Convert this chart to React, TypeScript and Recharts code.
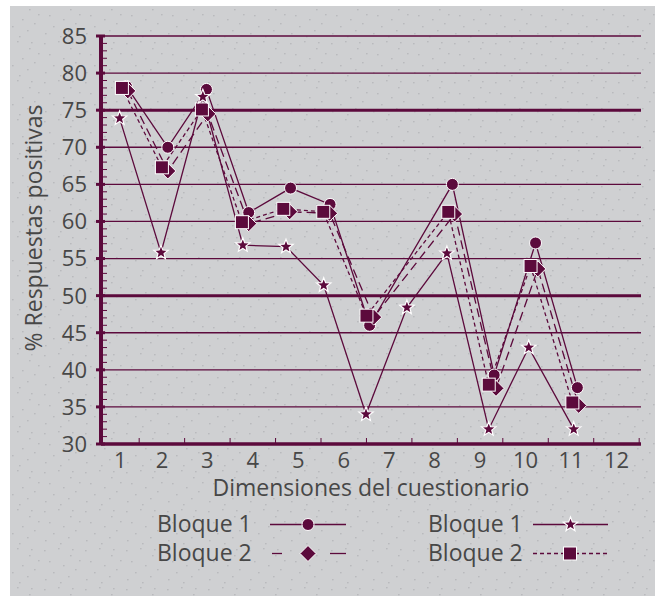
import React from 'react';
import { LineChart, Line, XAxis, YAxis, ReferenceLine } from 'recharts';

const MAROON = '#5c0a3c';
const TEXT = '#474747';
const FONT = '"Open Sans", "Noto Sans", sans-serif';

// x positions are read in axis units (category boundaries fall on 1..12)
const xTickLabels = ['1', '2', '3', '4', '5', '6', '7', '8', '9', '10', '11', '12'];
const xBoundaries = [1, 2, 3, 4, 5, 6, 7, 8, 9, 10, 11, 12];
const gridValues = [35, 40, 45, 55, 60, 65, 70, 80, 85];
const thickValues = [50, 75];

// Bloque 1 (circulo)
const circleX = [0.72, 1.63, 2.48, 3.41, 4.33, 5.2, 6.07, 7.89, 8.81, 9.72, 10.64];
const circleY = [78.2, 70.0, 77.8, 61.2, 64.5, 62.3, 46.0, 65.0, 39.3, 57.1, 37.6];
// Bloque 2 (rombo)
const diamondX = [0.75, 1.63, 2.51, 3.41, 4.31, 5.19, 6.16, 7.94, 8.85, 9.77, 10.67];
const diamondY = [77.6, 66.8, 74.5, 59.7, 61.3, 61.1, 47.1, 61.0, 37.5, 53.6, 35.2];
// Bloque 2 (cuadrado)
const squareX = [0.62, 1.5, 2.38, 3.26, 4.17, 5.05, 6.0, 7.8, 8.69, 9.61, 10.53];
const squareY = [78.0, 67.3, 75.1, 59.9, 61.7, 61.3, 47.3, 61.3, 38.0, 54.0, 35.6];
// Bloque 1 (estrella)
const starX = [0.57, 1.48, 2.4, 3.28, 4.23, 5.06, 5.99, 6.89, 7.77, 8.69, 9.57, 10.56];
const starY = [73.9, 55.8, 76.8, 56.8, 56.6, 51.4, 34.0, 48.4, 55.7, 32.0, 43.0, 32.0];

const zip = (xs: number[], ys: number[]) => xs.map((x, i) => ({ x, y: ys[i] }));
const circleData = zip(circleX, circleY);
const diamondData = zip(diamondX, diamondY);
const squareData = zip(squareX, squareY);
const starData = zip(starX, starY);

const minorTicks = Array.from({ length: 56 }, (_, i) => 30 + i);

// speckle texture of the paper background
const speckles = [
  [3, 4], [17, 2], [29, 9], [8, 15], [22, 19], [34, 23], [12, 26], [27, 30], [4, 33], [19, 36], [31, 3], [38, 14],
];

const starPath = (cx: number, cy: number, R: number, r: number) => {
  let d = '';
  for (let i = 0; i < 10; i++) {
    const rad = i % 2 === 0 ? R : r;
    const a = -Math.PI / 2 + (i * Math.PI) / 5;
    d += `${i === 0 ? 'M' : 'L'}${cx + rad * Math.cos(a)},${cy + rad * Math.sin(a)}`;
  }
  return d + 'Z';
};

const CircleMark = ({ cx, cy }: any) =>
  cx == null || cy == null ? <g /> : <circle cx={cx} cy={cy} r={6} fill={MAROON} stroke="#fff" strokeWidth={1} />;
const SquareMark = ({ cx, cy }: any) =>
  cx == null || cy == null ? <g /> : <rect x={cx - 6.5} y={cy - 6.5} width={13} height={13} fill={MAROON} stroke="#fff" strokeWidth={1} />;
const DiamondMark = ({ cx, cy }: any) =>
  cx == null || cy == null ? <g /> : (
    <path d={`M${cx},${cy - 8}L${cx + 8},${cy}L${cx},${cy + 8}L${cx - 8},${cy}Z`} fill={MAROON} stroke="#fff" strokeWidth={1} />
  );
const StarMark = ({ cx, cy }: any) =>
  cx == null || cy == null ? <g /> : <path d={starPath(cx, cy, 7.5, 3.2)} fill={MAROON} stroke="#fff" strokeWidth={1.2} />;

const YTick = ({ x, y, payload }: any) => {
  const v = payload.value;
  const major = v % 5 === 0;
  return (
    <g>
      {major ? (
        <>
          <line x1={x - 5} x2={x + 4} y1={y} y2={y} stroke={MAROON} strokeWidth={3} />
          <text x={x - 14} y={y} dy="0.36em" textAnchor="end" fontSize={22} fill={TEXT} fontFamily={FONT}>
            {v}
          </text>
        </>
      ) : (
        <line x1={x} x2={x + 6} y1={y} y2={y} stroke={MAROON} strokeWidth={1} />
      )}
    </g>
  );
};

const XTick = ({ x, y, payload, index }: any) => {
  const half = index === 0 ? 19 : 22.7;
  return (
    <g>
      <line x1={x} x2={x} y1={y} y2={y - 6} stroke={MAROON} strokeWidth={1} />
      <text x={x - half} y={y + 16} dy="0.36em" textAnchor="middle" fontSize={22} fill={TEXT} fontFamily={FONT}>
        {xTickLabels[index] ?? payload.value}
      </text>
    </g>
  );
};

const Legend = () => (
  <svg width={655} height={596} style={{ position: 'absolute', left: 0, top: 0, pointerEvents: 'none' }}>
    <g fontFamily={FONT} fontSize={23} fill={TEXT}>
      <text x={157} y={532}>Bloque 1</text>
      <text x={157} y={561}>Bloque 2</text>
      <text x={428} y={532}>Bloque 1</text>
      <text x={428} y={561}>Bloque 2</text>
    </g>
    <line x1={270} x2={346} y1={524.5} y2={524.5} stroke={MAROON} strokeWidth={1.3} />
    <CircleMark cx={308} cy={524.5} />
    <line x1={272} x2={282} y1={553.5} y2={553.5} stroke={MAROON} strokeWidth={1.3} />
    <line x1={330} x2={346} y1={553.5} y2={553.5} stroke={MAROON} strokeWidth={1.3} />
    <DiamondMark cx={308} cy={553.5} />
    <line x1={533} x2={608} y1={524.5} y2={524.5} stroke={MAROON} strokeWidth={1.3} />
    <StarMark cx={570.5} cy={524.5} />
    <line x1={533} x2={608} y1={553.5} y2={553.5} stroke={MAROON} strokeWidth={1.3} strokeDasharray="4 3" />
    <SquareMark cx={570} cy={553.5} />
  </svg>
);

export default function App() {
  return (
    <div style={{ position: 'absolute', left: 0, top: 0, width: 655, height: 596, background: '#fff', overflow: 'hidden' }}>
      <svg width={655} height={596} style={{ position: 'absolute', left: 0, top: 0 }}>
        <defs>
          <pattern id="speckle" width={41} height={39} patternUnits="userSpaceOnUse">
            {speckles.map(([sx, sy], i) => (
              <rect key={i} x={sx} y={sy} width={1.6} height={1.4} fill="#b9babd" />
            ))}
          </pattern>
        </defs>
        <rect x={10} y={6} width={645} height={590} fill="#cfd0d2" />
        <rect x={10} y={6} width={645} height={590} fill="url(#speckle)" />
      </svg>
      <div style={{ position: 'absolute', left: 0, top: 0 }}>
        <LineChart width={655} height={596} margin={{ top: 36, right: 14, bottom: 122, left: 41 }}>
          <XAxis
            type="number"
            dataKey="x"
            domain={[0.16, 12.04]}
            allowDataOverflow
            ticks={xBoundaries}
            interval={0}
            height={30}
            tickSize={0}
            tickMargin={0}
            tick={<XTick />}
            axisLine={{ stroke: MAROON, strokeWidth: 3.5 }}
            tickLine={false}
            label={{ value: 'Dimensiones del cuestionario', position: 'insideBottom', offset: -22, fill: TEXT, fontSize: 23, fontFamily: FONT }}
          />
          <YAxis
            type="number"
            domain={[30, 85]}
            allowDataOverflow
            ticks={minorTicks}
            interval={0}
            width={60}
            tickSize={0}
            tickMargin={0}
            tick={<YTick />}
            axisLine={{ stroke: MAROON, strokeWidth: 4 }}
            tickLine={false}
          />
          {gridValues.map((v) => (
            <ReferenceLine key={`g${v}`} y={v} stroke={MAROON} strokeWidth={1.3} />
          ))}
          {thickValues.map((v) => (
            <ReferenceLine key={`t${v}`} y={v} stroke={MAROON} strokeWidth={3} />
          ))}
          <Line data={circleData} dataKey="y" type="linear" stroke={MAROON} strokeWidth={1.3} isAnimationActive={false}
            dot={(p: any) => <CircleMark key={`c${p.index}`} {...p} />} />
          <Line data={diamondData} dataKey="y" type="linear" stroke={MAROON} strokeWidth={1.3} strokeDasharray="9 5" isAnimationActive={false}
            dot={(p: any) => <DiamondMark key={`d${p.index}`} {...p} />} />
          <Line data={squareData} dataKey="y" type="linear" stroke={MAROON} strokeWidth={1.3} strokeDasharray="4 3" isAnimationActive={false}
            dot={(p: any) => <SquareMark key={`s${p.index}`} {...p} />} />
          <Line data={starData} dataKey="y" type="linear" stroke={MAROON} strokeWidth={1.3} isAnimationActive={false}
            dot={(p: any) => <StarMark key={`st${p.index}`} {...p} />} />
        </LineChart>
      </div>
      <svg width={655} height={596} style={{ position: 'absolute', left: 0, top: 0, pointerEvents: 'none' }}>
        <text transform="translate(42,228) rotate(-90)" textAnchor="middle" fontSize={23} fill={TEXT} fontFamily={FONT}>
          % Respuestas positivas
        </text>
      </svg>
      <Legend />
    </div>
  );
}
